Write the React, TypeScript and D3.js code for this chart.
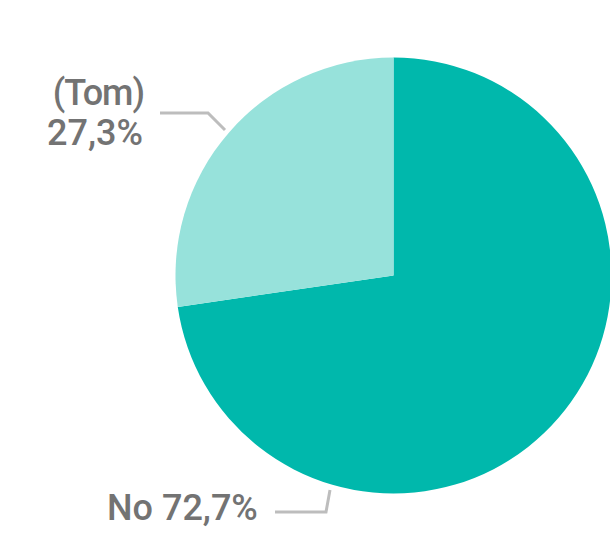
import React from "react";
import * as d3 from "d3";

const categories = ["No", "(Tom)"];
const values = [72.7, 27.3];
const colors = ["#00b8ac", "#97e2db"];

export default function App() {
  const width = 610;
  const height = 534;
  const cx = 393.5;
  const cy = 275.5;
  const r = 218;
  const pie = d3.pie<number>().sort(null).value((d) => d);
  const arcs = pie(values);
  const arc = d3.arc<d3.PieArcDatum<number>>().innerRadius(0).outerRadius(r);
  const fmt = (v: number) => v.toFixed(1).replace(".", ",") + "%";
  const font = "Roboto, 'Noto Sans', sans-serif";
  const textColor = "#737373";
  const lineColor = "#bdbdbd";
  return (
    <svg width={width} height={height} style={{ position: "absolute", left: 0, top: 0 }}>
      <g transform={`translate(${cx},${cy})`}>
        {arcs.map((a, i) => (
          <path key={i} d={arc(a) || ""} fill={colors[i]} />
        ))}
      </g>
      <polyline points="160,113 208,113 225,130" fill="none" stroke={lineColor} strokeWidth={3} />
      <polyline points="275,512 326,512 330,490" fill="none" stroke={lineColor} strokeWidth={3} />
      <g fontFamily={font} fontSize={36} fontWeight={500} fill={textColor}>
        <text x={144} y={105} textAnchor="end" letterSpacing={-1}>{categories[1]}</text>
        <text x={143} y={145} textAnchor="end">{fmt(values[1])}</text>
        <text x={107} y={520} textAnchor="start">{categories[0] + " " + fmt(values[0])}</text>
      </g>
    </svg>
  );
}
